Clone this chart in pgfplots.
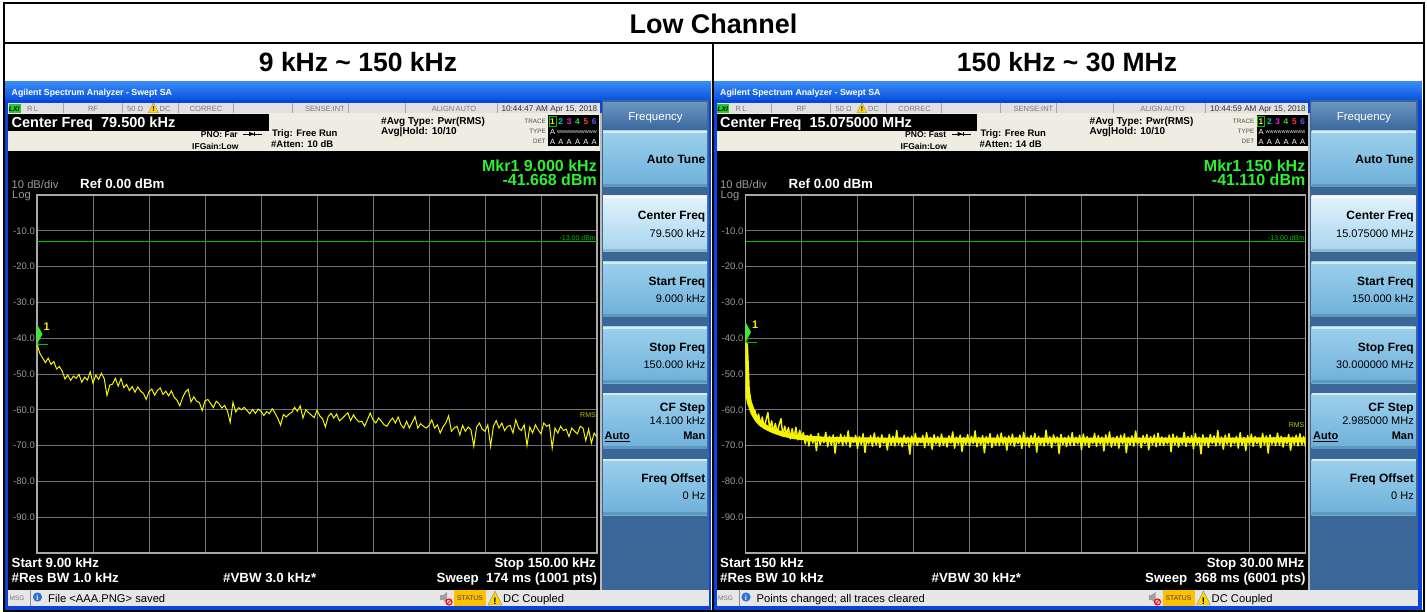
\documentclass[border=0pt]{standalone}
\usepackage{pgfplots}
\pgfplotsset{compat=1.18}
\usepackage{fontspec}
\setmainfont{Liberation Sans}
\newcommand\fs[1]{\fontsize{#1}{#1}\selectfont}
\definecolor{frameblue}{HTML}{0B43DB}
\definecolor{titletop}{HTML}{3A8AF7}
\definecolor{titlebot}{HTML}{0A55DE}
\definecolor{statgray}{HTML}{E1E1E1}
\definecolor{cellline}{HTML}{A5A5A5}
\definecolor{stattext}{HTML}{7A7A7A}
\definecolor{lxigreen}{HTML}{22CC22}
\definecolor{beige}{HTML}{EFECE1}
\definecolor{sepgray}{HTML}{B8B8B8}
\definecolor{panelblue}{HTML}{3A6698}
\definecolor{hdrtop}{HTML}{6A93C0}
\definecolor{hdrbot}{HTML}{3A689C}
\definecolor{btntop}{HTML}{9CD0EC}
\definecolor{btnbot}{HTML}{6EB0DA}
\definecolor{seltop}{HTML}{E2F2FB}
\definecolor{selbot}{HTML}{A6D5EE}
\definecolor{mkrgreen}{HTML}{2EF02E}
\definecolor{limgreen}{HTML}{00C000}
\definecolor{mkryellow}{HTML}{F0F000}
\definecolor{tracecol}{HTML}{F5F500}
\definecolor{gridgray}{HTML}{707070}
\definecolor{bordergray}{HTML}{A8A8A8}
\definecolor{labgray}{HTML}{9A9A9A}
\definecolor{statbar}{HTML}{E6E6E6}
\definecolor{statorange}{HTML}{FFC000}
\definecolor{warnyellow}{HTML}{FFD800}
\definecolor{infoblue}{HTML}{2F6FD8}
\definecolor{trc1}{HTML}{F0F000}
\definecolor{trc2}{HTML}{00C8D8}
\definecolor{trc3}{HTML}{E020E0}
\definecolor{trc4}{HTML}{30D830}
\definecolor{trc5}{HTML}{FF3A3A}
\definecolor{trc6}{HTML}{5A5AFF}

\tikzset{
 st/.style={inner sep=0pt, text=stattext, font=\fs{7.5}},
 bw/.style={inner sep=0pt, font=\fs{13.3}\bfseries, text=white},
 pt/.style={anchor=base east, inner sep=0pt, font=\fs{12}\bfseries},
 pv/.style={anchor=base east, inner sep=0pt, font=\fs{11}},
}

\newcommand\warn[4]{%
  \fill[warnyellow, draw=black!50, line width=0.3pt, line join=round] (#1,#2) -- ({#1+#3},#2) -- ({#1+#3/2},{#2-#3}) -- cycle;
  \node[anchor=base, inner sep=0pt, font=\fs{#4}\bfseries] at ({#1+#3/2},{#2-0.8}) {!};
}
\newcommand\infoicon[2]{%
  \fill[infoblue] (#1,#2) circle [radius=4.6pt];
  \node[inner sep=0pt, text=white, font=\fs{7.5}\bfseries] at (#1,{#2+0.3}) {i};
}
\newcommand\spk[2]{%
  \fill[gray!75] (#1,{#2+4}) rectangle ({#1+3},{#2+9});
  \fill[gray!75] ({#1+3},{#2+4}) -- ({#1+7},{#2+1}) -- ({#1+7},{#2+12}) -- ({#1+3},{#2+9}) -- cycle;
  \draw[red, line width=1.1pt] ({#1+9},{#2+11}) circle [radius=3pt];
  \draw[red, line width=0.9pt] ({#1+7},{#2+13}) -- ({#1+11},{#2+9});
}
\newcommand\btn[4]{%
  \shade[top color=#3, bottom color=#4] (603,#1) rectangle (707,#2);
  \fill[white, opacity=0.6] (603,#1) rectangle (707,{#1+2});
  \fill[#4!70!black, opacity=0.45] (603,{#2-3}) rectangle (707,#2);
}

\newcommand\drawscreen{%
 \fill[frameblue] (5,81.5) rectangle (\frameR,610);
 \shade[top color=titletop, bottom color=titlebot] (5,81.5) rectangle (\frameR,99.5);
 \node[anchor=base west, inner sep=0pt, text=white, font=\fs{8.8}\bfseries] at (11.5,96) {Agilent Spectrum Analyzer - Swept SA};
 \fill[statgray] (8,103.5) rectangle (599.5,113.5);
 \foreach \sx in {63,122,178,233,292,348,405,497}{\draw[cellline, line width=0.7pt] (\sx,103.5) -- (\sx,113.5);}
 \fill[lxigreen] (8.5,104.2) rectangle (20.5,112.8);
 \node[anchor=base west, inner sep=0pt, font=\fs{6.8}\bfseries\itshape] at (8.8,111.3) {LXI};
 \node[st, anchor=base west] at (27,111.5) {R\,L};
 \node[st, anchor=base] at (93,111.5) {RF};
 \node[st, anchor=base west] at (127,111.5) {50 Ω};
 \warn{148.5}{112.8}{10}{7}
 \node[st, anchor=base west] at (159.5,111.5) {DC};
 \node[st, anchor=base] at (206,111.5) {CORREC};
 \node[st, anchor=base east] at (345,111.5) {SENSE:INT};
 \node[st, anchor=base] at (454,111.5) {ALIGN\,AUTO};
 \node[st, anchor=base east, text=black!80, font=\fs{8.2}] at (597.5,111.5) {\timestamp};
 \fill[beige] (8,113.5) rectangle (599.5,151.5);
 \fill[black] (8,114) rectangle (268.5,131);
 \node[anchor=base west, inner sep=0pt, text=white, font=\fs{14.5}\bfseries] at (11.5,128) {Center Freq\ \ \cfval};
 \node[anchor=base east, inner sep=0pt, font=\fs{8.5}\bfseries] at (238,137.3) {PNO: \pno};
 \draw[line width=0.6pt] (243,134) -- (262,134);
 \fill (249,131.8) -- (254,134) -- (249,136.2) -- cycle;
 \draw[line width=0.6pt] (254.5,131.8) -- (254.5,136.2);
 \node[anchor=base west, inner sep=0pt, font=\fs{8.5}\bfseries] at (192,150) {IFGain:Low};
 \node[anchor=base west, inner sep=0pt, font=\fs{9.5}\bfseries] at (272,136.2) {Trig: Free Run};
 \node[anchor=base west, inner sep=0pt, font=\fs{9.5}\bfseries] at (271,148) {\#Atten: \atten};
 \node[anchor=base west, inner sep=0pt, font=\fs{10}\bfseries] at (381,124.6) {\#Avg Type: Pwr(RMS)};
 \node[anchor=base west, inner sep=0pt, font=\fs{10}\bfseries] at (381,134.3) {Avg|Hold: 10/10};
 \node[st, anchor=base east, font=\fs{6.3}, text=black!70] at (546,123.8) {TRACE};
 \node[st, anchor=base east, font=\fs{6.3}, text=black!70] at (546,133.8) {TYPE};
 \node[st, anchor=base east, font=\fs{6.3}, text=black!70] at (546,143.8) {DET};
 \fill[black] (548,115.5) rectangle (599,146.5);
 \draw[limgreen, line width=0.6pt] (549,116.5) rectangle (556,126);
 \foreach \dx/\dc/\dd in {552.5/trc1/1, 560.8/trc2/2, 569.2/trc3/3, 577.5/trc4/4, 585.9/trc5/5, 594.2/trc6/6}{\node[anchor=base, inner sep=0pt, text=\dc, font=\fs{8.3}\bfseries] at (\dx,124.3) {\dd};}
 \node[anchor=base, inner sep=0pt, text=white, font=\fs{7.5}] at (552.5,134.3) {A};
 \node[anchor=base west, inner sep=0pt, text=white, font=\fs{4.2}] at (557,133.3) {WWWWWWWWWW};
 \foreach \dx in {552.5,560.8,569.2,577.5,585.9,594.2}{\node[anchor=base, inner sep=0pt, text=white, font=\fs{7.5}] at (\dx,144.3) {A};}
 \fill[black] (8,151.5) rectangle (599.5,589.5);
 \fill[sepgray] (599.5,113.5) rectangle (601.5,589.5);
 \fill[panelblue] (601.5,100.5) rectangle (709,589.5);
 \shade[top color=hdrtop, bottom color=hdrbot] (603,103) rectangle (707,130);
 \node[anchor=base, inner sep=0pt, text=white, font=\fs{11.5}] at (655.5,120.2) {Frequency};
 \btn{131}{187}{btntop}{btnbot}
 \btn{196}{252}{seltop}{selbot}
 \btn{262}{317}{btntop}{btnbot}
 \btn{327}{383}{btntop}{btnbot}
 \btn{393}{448.5}{btntop}{btnbot}
 \btn{459}{515}{btntop}{btnbot}
 \node[pt] at (705.5,163.6) {Auto Tune};
 \node[pt] at (705.5,220) {Center Freq};
 \node[pv] at (705.5,237.2) {\bCF};
 \node[pt] at (705.5,285.3) {Start Freq};
 \node[pv] at (705.5,302.9) {\bStart};
 \node[pt] at (705.5,351) {Stop Freq};
 \node[pv] at (705.5,368.2) {\bStop};
 \node[pt] at (705.5,411.5) {CF Step};
 \node[pv] at (705.5,424.3) {\bStep};
 \node[pv, anchor=base west, font=\fs{11}\bfseries] at (604.5,439.8) {\underline{Auto}};
 \node[pv, font=\fs{11}\bfseries] at (705.5,439.8) {Man};
 \node[pt] at (705.5,482.6) {Freq Offset};
 \node[pv] at (705.5,499.9) {0 Hz};
 \node[anchor=base east, inner sep=0pt, text=mkrgreen, font=\fs{16}\bfseries] at (597,171.5) {\mkrf};
 \node[anchor=base east, inner sep=0pt, text=mkrgreen, font=\fs{16}\bfseries] at (597,185.8) {\mkrv};
 \node[anchor=base west, inner sep=0pt, text=labgray, font=\fs{11.2}] at (11.5,188.3) {10 dB/div};
 \node[anchor=base west, inner sep=0pt, text=labgray, font=\fs{11.2}] at (12,198.3) {Log};
 \node[anchor=base west, inner sep=0pt, text=white, font=\fs{13.3}\bfseries] at (80,188.3) {Ref 0.00 dBm};
 \node[bw, anchor=base west] at (11.5,567.3) {\sttxt};
 \node[bw, anchor=base west] at (11.5,582.3) {\rbw};
 \node[bw, anchor=base west] at (223,582.3) {\vbw};
 \node[bw, anchor=base east] at (596,567.3) {\stoptxt};
 \node[bw, anchor=base east] at (597.3,582.3) {\sweep};
 \fill[statbar] (8,589.5) rectangle (709,606);
 \draw[black!45, line width=0.6pt] (30.5,590) -- (30.5,606);
 \node[st, anchor=west, font=\fs{6.5}] at (9.5,598.5) {MSG};
 \infoicon{37.5}{597}
 \node[anchor=base west, inner sep=0pt, font=\fs{11.2}] at (48,602.8) {\msg};
 \spk{440}{591}
 \fill[statorange] (454,590) rectangle (486,606);
 \node[inner sep=0pt, font=\fs{6.8}, text=black!75] at (470,598.3) {STATUS};
 \warn{488}{605}{14}{9.5}
 \node[anchor=base west, inner sep=0pt, font=\fs{11.2}] at (503,602.8) {DC Coupled};
}

\pgfplotsset{sa/.style={
  scale only axis, width=560pt, height=358pt, anchor=south west,
  ymin=-100, ymax=0, ytick={-90,-80,...,-10},
  yticklabels={-90.0,-80.0,-70.0,-60.0,-50.0,-40.0,-30.0,-20.0,-10.0},
  yticklabel style={font=\fs{9.5}, text=labgray, anchor=east, inner sep=0pt, xshift=-2pt},
  xticklabels={}, major tick length=0pt,
  grid=major, grid style={gridgray, line width=0.9pt},
  axis line style={bordergray, line width=1.6pt},
  clip=true,
}}
\newcommand\mkr[1]{%
  \fill[mkrgreen] (axis cs:0,#1) -- ++(5.5pt,10pt) -- ++(-5.5pt,10pt) -- cycle;
  \draw[limgreen, line width=0.7pt, <-] (axis cs:0,#1) -- ++(11pt,0pt);
  \node[anchor=base west, xshift=6.5pt, yshift=14pt, inner sep=0pt, text=mkryellow, font=\fs{11}\bfseries] at (axis cs:0,#1) {1};
}

\begin{document}
\begin{tikzpicture}[x=1pt,y=-1pt]
\useasboundingbox (0,0) rectangle (1427,612);
\fill[white] (0,0) rectangle (1427,612);
\node[anchor=base, inner sep=0pt, font=\fs{27}\bfseries] at (713.5,33.3) {Low Channel};
\node[anchor=base, inner sep=0pt, font=\fs{26.5}\bfseries] at (358,71.5) {9 kHz \textasciitilde{} 150 kHz};
\node[anchor=base, inner sep=0pt, font=\fs{26.5}\bfseries] at (1067,71.5) {150 kHz \textasciitilde{} 30 MHz};

\def\frameR{711}
\def\cfval{79.500 kHz}
\def\pno{Far}
\def\atten{10 dB}
\def\timestamp{10:44:47 AM Apr 15, 2018}
\def\mkrf{Mkr1 9.000 kHz}
\def\mkrv{-41.668 dBm}
\def\bCF{79.500 kHz}
\def\bStart{9.000 kHz}
\def\bStop{150.000 kHz}
\def\bStep{14.100 kHz}
\def\sttxt{Start 9.00 kHz}
\def\rbw{\#Res BW 1.0 kHz}
\def\vbw{\#VBW 3.0 kHz*}
\def\stoptxt{Stop 150.00 kHz}
\def\sweep{Sweep\ \ 174 ms (1001 pts)}
\def\msg{File <AAA.PNG> saved}
\drawscreen

\begin{scope}[xshift=708.5pt]
\def\frameR{713.2}
\def\cfval{15.075000 MHz}
\def\pno{Fast}
\def\atten{14 dB}
\def\timestamp{10:44:59 AM Apr 15, 2018}
\def\mkrf{Mkr1 150 kHz}
\def\mkrv{-41.110 dBm}
\def\bCF{15.075000 MHz}
\def\bStart{150.000 kHz}
\def\bStop{30.000000 MHz}
\def\bStep{2.985000 MHz}
\def\sttxt{Start 150 kHz}
\def\rbw{\#Res BW 10 kHz}
\def\vbw{\#VBW 30 kHz*}
\def\stoptxt{Stop 30.00 MHz}
\def\sweep{Sweep\ \ 368 ms (6001 pts)}
\def\msg{Points changed; all traces cleared}
\drawscreen
\end{scope}

\begin{axis}[sa, at={(37pt,-553pt)}, xmin=0, xmax=200, xtick={0,20,...,200}]
\addplot[limgreen, line width=0.8pt] coordinates {(0,-13) (200,-13)};
\addplot[tracecol, line width=1pt] table[row sep=\\, x expr=\coordindex, y=y] {y\\
-41.7\\-44.2\\-45.5\\-46.8\\-45.6\\-47.3\\-46.5\\-48.6\\-47.9\\-49.2\\
-51.4\\-50.3\\-51.8\\-50.6\\-51.2\\-50.1\\-52.3\\-50.9\\-51.7\\-49.4\\
-52.6\\-50.3\\-51.5\\-49.8\\-51.3\\-56.0\\-53.1\\-52.8\\-51.2\\-53.4\\
-51.3\\-53.8\\-52.9\\-54.6\\-53.5\\-55.1\\-53.6\\-54.8\\-55.4\\-57.1\\
-54.9\\-54.2\\-55.9\\-54.6\\-53.9\\-55.7\\-54.8\\-56.1\\-54.7\\-56.5\\
-57.3\\-58.9\\-56.6\\-55.0\\-54.3\\-57.8\\-56.4\\-57.6\\-58.0\\-60.2\\
-57.5\\-57.1\\-58.2\\-59.4\\-57.6\\-58.3\\-59.5\\-58.8\\-60.3\\-63.5\\
-57.9\\-60.6\\-59.4\\-60.0\\-59.3\\-60.2\\-61.1\\-59.9\\-61.0\\-59.8\\
-60.4\\-61.6\\-60.5\\-61.1\\-59.7\\-60.9\\-62.4\\-64.3\\-61.3\\-62.0\\
-61.2\\-60.7\\-59.3\\-60.4\\-58.9\\-62.3\\-60.0\\-60.8\\-61.5\\-62.2\\
-60.1\\-61.7\\-62.5\\-64.8\\-61.9\\-61.0\\-62.3\\-61.2\\-63.1\\-62.4\\
-61.6\\-60.8\\-63.0\\-61.4\\-62.6\\-63.4\\
-63.2\\-64.6\\-62.8\\-60.9\\-62.8\\-63.7\\-62.3\\-63.2\\-64.2\\-64.6\\
-63.2\\-62.3\\-63.7\\-62.0\\-64.2\\-65.1\\-63.2\\-65.1\\-63.5\\-61.9\\
-65.1\\-63.9\\-64.6\\-65.1\\-64.4\\-62.8\\-65.1\\-64.2\\-66.5\\-64.8\\
-63.7\\-61.7\\-66.0\\-65.1\\-64.6\\-67.0\\-64.4\\-66.0\\-64.8\\-65.6\\
-70.2\\-64.8\\-63.7\\-65.4\\-66.0\\-64.2\\-70.2\\-64.6\\-63.0\\-65.1\\
-63.7\\-65.8\\-64.6\\-64.4\\-66.5\\-62.8\\-65.1\\-65.8\\-64.2\\-70.0\\
-64.8\\-66.5\\-64.2\\-65.6\\-66.7\\-63.7\\-64.6\\-64.2\\-70.7\\-65.1\\
-66.5\\-64.6\\-65.8\\-65.4\\-67.5\\-65.1\\-66.0\\-66.7\\-64.6\\-65.1\\
-68.6\\-65.4\\-69.3\\-66.5\\-67.6\\
};
\node[anchor=south east, inner sep=1pt, text=limgreen, font=\fs{7}] at (axis cs:200,-13) {-13.00 dBm};
\node[anchor=east, inner sep=1pt, text=tracecol!80!black, font=\fs{7}] at (axis cs:200,-61.5) {RMS};
\mkr{-41.668}
\end{axis}

\begin{axis}[sa, at={(745.5pt,-553pt)}, xmin=0, xmax=300, xtick={0,30,...,300}]
\addplot[limgreen, line width=0.8pt] coordinates {(0,-13) (300,-13)};
% band centre of the dense 6001-point trace
\addplot[tracecol, line width=5pt, line join=round] coordinates {
(0,-41.1) (1,-54.5) (2,-57.8) (4,-60.8) (6,-62.6) (8,-63.8) (11,-64.9) (15,-65.9)
(20,-66.8) (26,-67.5) (33,-67.9) (45,-68.3) (80,-68.5) (150,-68.5) (220,-68.5) (300,-68.4)};
\addplot[tracecol, line width=1.5pt, line join=round] table[row sep=\\, x expr=\coordindex, y=y] {y\\
-41.1\\-54.2\\-57.5\\-58.6\\-61.3\\-60.1\\-63.4\\-61.2\\-64.5\\-62.0\\-65.1\\
-62.9\\-60.8\\-65.6\\-63.1\\-66.2\\-63.8\\-66.7\\-64.2\\-62.5\\-67.3\\
-64.6\\-66.9\\-65.0\\-68.1\\-65.3\\-67.8\\-64.9\\-68.4\\-65.7\\-67.9\\
-66.4\\-69.5\\-67.2\\-70.1\\-66.9\\-69.3\\-67.5\\-71.4\\-66.6\\-69.8\\
-67.8\\-69.2\\-66.3\\-70.3\\-67.4\\-69.9\\-67.0\\-72.1\\-67.6\\-69.4\\
-66.8\\-70.0\\-67.3\\-69.6\\-65.9\\-70.4\\-67.7\\-69.1\\-67.1\\-70.8\\
-67.5\\-69.7\\-66.7\\-71.9\\-67.9\\-69.5\\-67.2\\-70.2\\-66.5\\-69.8\\
-67.6\\-70.5\\-67.0\\-69.3\\-68.0\\-71.2\\-66.9\\-69.9\\-67.4\\-70.1\\
-65.8\\-69.6\\-67.8\\-70.3\\-67.1\\-69.4\\-67.6\\-72.4\\-67.3\\-69.7\\
-66.6\\-70.0\\-67.9\\-69.2\\-67.2\\-70.6\\-66.4\\-69.8\\-67.7\\-71.0\\
-67.0\\-69.5\\-67.5\\-70.2\\-66.8\\-69.9\\-68.0\\-70.4\\-67.3\\-69.3\\
-66.2\\-70.7\\-67.6\\-69.6\\-67.1\\-71.6\\-67.8\\-69.7\\-66.9\\-70.1\\
-67.4\\-69.4\\-65.9\\-70.3\\-67.7\\-69.8\\-67.2\\-72.0\\-67.5\\-69.5\\
-66.7\\-70.5\\-67.9\\-69.9\\-67.0\\-70.0\\-66.5\\-69.6\\-67.6\\-71.3\\
-67.3\\-69.7\\-66.8\\-70.2\\-67.8\\-69.4\\-67.1\\-70.8\\-66.3\\-69.9\\
-67.7\\-70.4\\-67.2\\-69.5\\-66.6\\-71.8\\-67.4\\-69.8\\-67.9\\-70.1\\
-65.7\\-69.6\\-67.5\\-70.6\\-67.0\\-69.3\\-67.6\\-72.2\\-66.9\\-69.7\\
-67.8\\-70.3\\-67.3\\-69.9\\-66.4\\-70.0\\-67.7\\-69.5\\-67.1\\-71.1\\
-66.8\\-69.8\\-67.5\\-70.5\\-67.9\\-69.4\\-66.6\\-70.2\\-67.2\\-69.6\\
-67.6\\-71.5\\-67.0\\-69.7\\-66.2\\-70.4\\-67.8\\-69.9\\-67.4\\-70.7\\
-67.1\\-69.5\\-66.7\\-72.0\\-67.7\\-69.8\\-67.3\\-70.1\\-65.9\\-69.6\\
-67.9\\-70.6\\-67.2\\-69.4\\-66.9\\-71.2\\-67.5\\-69.7\\-67.0\\-70.3\\
-66.5\\-69.9\\-67.6\\-70.0\\-67.8\\-69.5\\-67.1\\-71.7\\-66.8\\-69.8\\
-67.4\\-70.4\\-67.9\\-69.6\\-66.3\\-70.2\\-67.5\\-69.3\\-67.2\\-70.9\\
-66.6\\-69.7\\-67.7\\-72.3\\-67.0\\-69.9\\-67.8\\-70.5\\-66.9\\-69.4\\
-67.3\\-70.1\\-65.8\\-69.8\\-67.6\\-71.0\\-67.1\\-69.6\\-66.7\\-70.3\\
-67.9\\-69.5\\-67.4\\-70.7\\-66.4\\-69.9\\-67.7\\-71.4\\-67.2\\-69.7\\
-66.8\\-70.2\\-67.5\\-69.4\\-67.9\\-70.6\\-66.6\\-69.8\\-67.3\\-72.1\\
-67.0\\-69.6\\-67.7\\-70.0\\-66.5\\-69.9\\-67.4\\-70.4\\-67.8\\-69.5\\
-66.9\\-71.3\\-67.6\\-69.7\\-67.1\\-70.1\\-66.7\\-69.8\\-67.5\\-70.3\\
};
\node[anchor=south east, inner sep=1pt, text=limgreen, font=\fs{7}] at (axis cs:300,-13) {-13.00 dBm};
\node[anchor=east, inner sep=1pt, text=tracecol!80!black, font=\fs{7}] at (axis cs:300,-64.2) {RMS};
\mkr{-41.11}
\end{axis}

\draw[black, line width=2pt] (3.5,3.5) rectangle (1423.5,610.8);
\draw[black, line width=2pt] (3.5,43) -- (1423.5,43);
\draw[black, line width=2pt] (712.5,43) -- (712.5,611);
\end{tikzpicture}
\end{document}
